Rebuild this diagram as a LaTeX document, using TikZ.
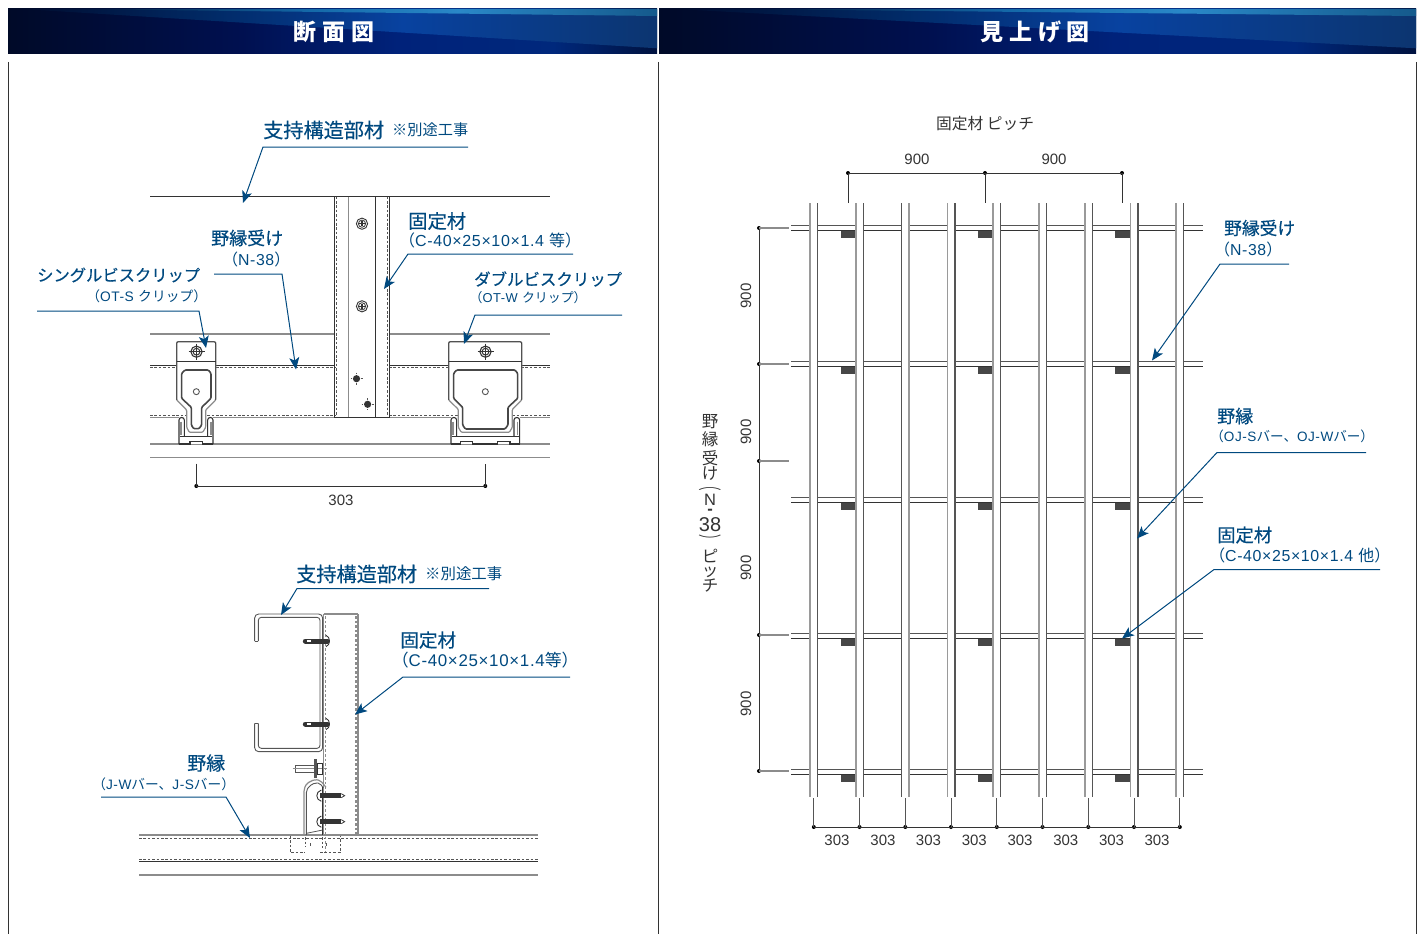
\documentclass[tikz,border=0pt]{standalone}
\usepackage{fontspec}
\usepackage{graphicx}
\usetikzlibrary{arrows.meta,calc}
\setmainfont{Liberation Sans}
\newfontfamily\lsp[LetterSpace=4]{Liberation Sans}
\newfontfamily\jp{Noto Sans CJK JP}
\newfontfamily\jpm[FakeBold=0.35]{Noto Sans CJK JP}
\newfontfamily\jphalf[RawFeature={+halt}]{Noto Sans CJK JP}
\newfontfamily\jphead[LetterSpace=26]{Noto Sans CJK JP}
\newcommand\J[1]{{\jp #1}}
\newcommand\Hf[1]{{\jphalf #1}}
\newcommand\fitw[2]{\resizebox{#1pt}{!}{#2}}
\newcommand\vcell[2]{\vbox to #1pt{\vss\hbox to 26pt{\hss #2\hss}\vss}\nointerlineskip}
\definecolor{lblue}{HTML}{00497F}
\definecolor{dk}{HTML}{333333}
\definecolor{md}{HTML}{555555}
\definecolor{gr}{HTML}{8C8C8C}
\definecolor{vg}{HTML}{9A9A9A}
\definecolor{hA}{HTML}{000A28}
\definecolor{hB}{HTML}{001050}
\definecolor{hC}{HTML}{00227A}
\definecolor{hD}{HTML}{00287C}
\definecolor{hE}{HTML}{00123F}
\definecolor{wA}{HTML}{000C2E}
\definecolor{wB}{HTML}{012A66}
\definecolor{wC}{HTML}{0842A0}
\definecolor{wD}{HTML}{0C3570}
\definecolor{bA}{HTML}{001030}
\definecolor{bB}{HTML}{1468A8}
\definecolor{bC}{HTML}{2A88C8}
\definecolor{bD}{HTML}{155A8C}
\pgfdeclarehorizontalshading{hdbase}{100bp}{color(0bp)=(hA); color(25bp)=(hA); color(43bp)=(hB); color(55bp)=(hC); color(67bp)=(hD); color(75bp)=(hE); color(100bp)=(hE)}
\pgfdeclarehorizontalshading{hdwedge}{100bp}{color(0bp)=(wA); color(25bp)=(wA); color(40bp)=(wB); color(55bp)=(wC); color(75bp)=(wD); color(100bp)=(wD)}
\pgfdeclarehorizontalshading{hdband}{100bp}{color(0bp)=(bA); color(25bp)=(bA); color(45bp)=(bB); color(58bp)=(bC); color(75bp)=(bD); color(100bp)=(bD)}
\tikzset{
  lab/.style={inner sep=0pt,anchor=west,text=lblue},
  hd/.style={font=\jpm\fontsize{18}{22}\selectfont},
  sb/.style={font=\lsp\fontsize{15}{18}\selectfont},
  dim/.style={inner sep=0pt,text=dk,font=\fontsize{15}{18}\selectfont},
  leader/.style={draw=lblue,line width=1pt,-{Stealth[length=12pt,width=10pt,inset=3pt]}},
  dl/.style={draw=dk,line width=.9pt},
  gl/.style={draw=gr,line width=1.2pt},
  dashl/.style={draw=md,line width=.9pt,dash pattern=on 2.6pt off 1.8pt},
  dimdot/.style={fill=black,circle,inner sep=0pt,minimum size=4pt},
  dimln/.style={draw=dk,line width=1pt},
  frame/.style={draw=dk,line width=.9pt},
  vparen/.style={inner sep=0pt,text=dk,rotate=-90,font=\fontsize{16.5}{17}\selectfont},
  htitle/.style={inner sep=0pt,text=white,font=\jphead\bfseries\fontsize{23}{26}\selectfont}
}
\newcommand\hdrbar[2]{%
\begin{scope}[shift={(#1,0)},xscale=#2]
\shade[shading=hdbase] (0,9) rectangle (100,54);
\shade[shading=hdwedge] (2,9)--(100,9)--(100,48.3)--cycle;
\shade[shading=hdband] (10,9)--(100,9)--(100,16)--cycle;
\end{scope}}
\newcommand\crossscrew[2]{%
\draw[dl,line width=1.1pt] (#1,#2) circle[radius=5.6];
\draw[dk,line width=1pt] (#1,#2) circle[radius=3.4];
\draw[dk,line width=1.4pt] (#1-3.4,#2)--(#1+3.4,#2) (#1,#2-3.4)--(#1,#2+3.4);
\draw[dk,line width=.7pt] (#1-8,#2)--(#1+8,#2) (#1,#2-8)--(#1,#2+8);}
\newcommand\plainscrew[2]{%
\draw[dl] (#1,#2) circle[radius=5.6];
\draw[dk,line width=.8pt] (#1,#2) circle[radius=3.6];
\draw[dk,line width=1.2pt] (#1-2.6,#2)--(#1+2.6,#2) (#1,#2-2.6)--(#1,#2+2.6);}
\newcommand\blackscrew[2]{%
\fill[dk] (#1,#2) circle[radius=3.6];
\draw[md,line width=.8pt] (#1-6,#2)--(#1-4.5,#2) (#1+4.5,#2)--(#1+6,#2) (#1,#2-6)--(#1,#2-4.5) (#1,#2+4.5)--(#1,#2+6);}
\begin{document}
\begin{tikzpicture}[x=1pt,y=-1pt]
\useasboundingbox (0,0) rectangle (1421,934);
% header bars
\hdrbar{8}{6.49}
\hdrbar{659}{7.57}
\node[htitle] (t1) at (334,31.5) {断面図};
\node[htitle] (t2) at (1035,31.5) {見上げ図};
% frame
\draw[frame] (8.5,62)--(8.5,934) (658,62)--(658,934) (1416,62)--(1416,934);

%%%%% upper-left section
\draw[dl] (150,196.5)--(550,196.5);
\foreach \a/\b in {150/335,389/550}{
  \draw[gl] (\a,334)--(\b,334);
  \draw[dl,line width=.7pt] (\a,365.4)--(\b,365.4);
  \draw[dashl] (\a,367.6)--(\b,367.6);
  \draw[dashl] (\a,415.8)--(\b,415.8);
  \draw[gl] (\a,417.7)--(\b,417.7);
}
\draw[gl] (150,444)--(550,444);
\draw[gl] (150,457.8)--(550,457.8);
% column
\draw[dl] (334.7,196.5)--(334.7,417.7);
\draw[gl] (348.5,196.5)--(348.5,417.7);
\draw[dl] (375.3,196.5)--(375.3,417.7);
\draw[dl] (389.2,196.5)--(389.2,417.7);
\draw[dashl] (336.4,196.5)--(336.4,417.7);
\draw[dashl] (387.4,196.5)--(387.4,417.7);
\draw[dl] (335,417.7)--(389,417.7);
\plainscrew{362}{223.7}
\plainscrew{362}{306.3}
\blackscrew{356.5}{378.7}
\blackscrew{367.6}{404.3}
% clips
\begin{scope}[shift={(140,320)},scale=1/3]
 % single clip holder
 \fill[white] (116,290) rectangle (219,371);
 \draw[dl,line width=1.1pt] (117,372)--(117,300)..controls (117,290) and (133,290) .. (133,300)--(133,350);
 \draw[dl,line width=1.1pt] (219,372)--(219,300)..controls (219,290) and (203,290) .. (203,300)--(203,350);
 \draw[gl] (123,305)--(123,345) (213,305)--(213,345);
 \draw[dl] (120,350)--(217,350);
 \draw[dl,line width=1.1pt] (117,372)--(150,372)--(150,365)--(187,365)--(187,372)--(219,372);
 % single clip
 \draw[gl,fill=white,rounded corners=1pt] (110,240)--(110,65)--(227,65)--(227,240)--(197,270)--(197,322)--(188,337)--(148,337)--(140,322)--(140,270)--cycle;
 \draw[dl,line width=.7pt,rounded corners=2pt] (110,240)--(110,65)--(227,65)--(227,240);
 \draw[dl,line width=.8pt] (110,125)--(227,125);
 \draw[draw=dk!90,line width=1.6pt,rounded corners=1pt] (125,235)--(125,160)--(135,150)--(205,150)--(213,160)--(213,235)--(185,262)--(185,315)--(177,326)--(161,326)--(154,315)--(154,262)--cycle;
 \draw[md,line width=.9pt] (169,215) circle[radius=9];
 % double clip holder
 \fill[white] (932,290) rectangle (1140,371);
 \draw[dl,line width=1.1pt] (933,372)--(933,300)..controls (933,290) and (950,290) .. (950,300)--(950,350);
 \draw[dl,line width=1.1pt] (1139,372)--(1139,300)..controls (1139,290) and (1122,290) .. (1122,300)--(1122,350);
 \draw[gl] (939,305)--(939,345) (1133,305)--(1133,345);
 \draw[dl] (935,350)--(1137,350);
 \draw[dl,line width=1.1pt] (933,372)--(962,372)--(962,365)--(998,365)--(998,372)--(1072,372)--(1072,365)--(1110,365)--(1110,372)--(1139,372);
 % double clip
 \draw[gl,fill=white,rounded corners=1pt] (926,240)--(926,65)--(1145,65)--(1145,240)--(1117,268)--(1117,322)--(1108,337)--(964,337)--(955,322)--(955,268)--cycle;
 \draw[dl,line width=.7pt,rounded corners=2pt] (926,240)--(926,65)--(1145,65)--(1145,240);
 \draw[dl,line width=.8pt] (926,125)--(1145,125);
 \draw[draw=dk!90,line width=1.6pt,rounded corners=1pt] (941,235)--(941,160)--(950,150)--(1125,150)--(1133,160)--(1133,235)--(1104,262)--(1104,315)--(1095,327)--(976,327)--(968,315)--(968,262)--cycle;
 \draw[md,line width=.9pt] (1036,215) circle[radius=9];
\end{scope}
\crossscrew{196.5}{351.7}
\crossscrew{485.5}{351.7}
% dimension 303
\node[dimdot] (d1a) at (196.3,486) {};
\node[dimdot] (d1b) at (485.3,486) {};
\coordinate (d1c) at (196.3,463.5);
\coordinate (d1d) at (485.3,463.5);
\draw[dimln] (d1c)--(d1a.center)--(d1b.center)--(d1d);
\node[dim] (d303) at (341,500) {303};

%%%%% lower-left section
\draw[gl] (139,835)--(538,835);
\draw[dashl] (139,838.5)--(538,838.5);
\draw[dashl] (139,859.3)--(538,859.3);
\draw[dl] (139,861.2)--(538,861.2);
\draw[gl] (139,875)--(538,875);
% column
\draw[gl] (323.5,614)--(323.5,835);
\draw[gl] (323.5,614)--(358,614);
\draw[draw=gr,line width=1.6pt] (357.8,614)--(357.8,835);
\draw[draw=gr,line width=1.5pt,dash pattern=on 2.6pt off 2pt] (325.7,616)--(325.7,855);
\draw[draw=gr,line width=1.5pt,dash pattern=on 2.6pt off 2pt] (356,616)--(356,835);
\begin{scope}[shift={(240,600)},scale=1/3]
 \draw[md,line width=.9pt,rounded corners=4pt] (44,123)--(44,42)--(248,42)--(248,455)--(44,455)--(44,370);
 \draw[md,line width=.9pt,rounded corners=3pt] (55,123)--(55,52)--(240,52)--(240,445)--(55,445)--(55,370);
 \draw[md,line width=.9pt] (44,123)--(55,123) (44,370)--(55,370);
 \foreach \y in {123,372}{
  \draw[dk,line width=5pt,line cap=round] (196,\y)--(262,\y);
  \draw[white,line width=1.6pt] (200,\y)--(214,\y);
  \draw[dk,line width=.9pt] (258,\y-17)..controls (272,\y-12) and (272,\y+12) .. (258,\y+17);
 }
\end{scope}
\begin{scope}[shift={(130,750)},scale=1/3]
 % bolt
 \draw[md,line width=.8pt] (495,45) rectangle (552,67);
 \draw[draw=gr,line width=.6pt] (488,56)--(590,56);
 \fill[md] (552,28) rectangle (561,85);
 \draw[dk,line width=.8pt] (562,40) rectangle (578,72);
 % clip
 \draw[gl,rounded corners=2pt] (522,255)--(522,118)--(530,100)--(555,88)--(572,92)--(588,112);
 \draw[md,line width=.9pt,rounded corners=2pt] (529,255)--(529,122)--(538,108)--(556,98)--(570,100)--(580,114);
 \draw[dl,line width=1.1pt] (578,110)--(578,255);
 \draw[md,line width=.8pt] (529,250)--(578,240);
 \foreach \y in {137,215}{
  \draw[dk,line width=5pt] (570,\y)--(634,\y);
  \draw[dk,line width=.8pt] (634,\y-6)--(644,\y)--(634,\y+6);
  \draw[dk,line width=.9pt] (574,\y-17)..controls (556,\y-12) and (556,\y+12) .. (574,\y+17);
 }
 % hidden part
 \draw[dashl] (481,258)--(481,308)--(525,308);
 \draw[dashl] (570,308)--(630,308)--(630,258);
 \draw[dashl] (525,262)--(525,290) (540,280)--(540,292) (578,262)--(578,295) (590,280)--(590,292);
\end{scope}

%%%%% right plan
\foreach \y in {228,364,500,636,772}{
  \draw[md,line width=1pt] (791,\y-2.7)--(1203,\y-2.7);
  \draw[dl,line width=1pt] (791,\y+2.7)--(1203,\y+2.7);
}
\foreach \y in {228,364,500,636,772}{
  \foreach \x in {855.3,993,1130}{
    \fill[dk!90] (\x-14.6,\y+3) rectangle (\x,\y+9.5);
  }
}
\foreach \x in {810.3,856,901.7,947.5,993.2,1039,1084.7,1130.5,1176.2}{
  \fill[white] (\x,203) rectangle (\x+7.5,797);
}
\foreach \x in {810.3,856,947.5,993.2,1039,1084.7,1130.5,1176.2}{
  \draw[draw=vg,line width=1.7pt] (\x,203)--(\x,797);
  \draw[md,line width=1.1pt] (\x+7.5,203)--(\x+7.5,797);
}
\draw[md,line width=1.1pt] (901.7,203)--(901.7,797);
\draw[draw=vg,line width=1.7pt] (909.2,203)--(909.2,797);

% top dimension
\node[dimdot] (ta) at (848,173) {};
\node[dimdot] (tb) at (985,173) {};
\node[dimdot] (tc) at (1122,173) {};
\coordinate (ta2) at (848,203);
\coordinate (tb2) at (985,203);
\coordinate (tc2) at (1122,203);
\draw[dimln] (ta2)--(ta.center)--(tc.center)--(tc2) (tb.center)--(tb2);
\node[dim] (t900a) at (917,159.5) {900};
\node[dim] (t900b) at (1054,159.5) {900};
\node[dim] (tpitch) at (985,124) {\fitw{98}{\J{固定材 ピッチ}}};
% left dimension
\node[dimdot] (la) at (759,228) {};
\node[dimdot] (lb) at (759,364) {};
\node[dimdot] (lc) at (759,461) {};
\node[dimdot] (ld) at (759,635) {};
\node[dimdot] (le) at (759,771) {};
\coordinate (la2) at (789,228);
\coordinate (lb2) at (789,364);
\coordinate (lc2) at (789,461);
\coordinate (ld2) at (789,635);
\coordinate (le2) at (789,771);
\draw[dimln] (la.center)--(le.center);
\draw[draw=gr,line width=1.2pt] (la.center)--(la2) (lb.center)--(lb2) (lc.center)--(lc2) (ld.center)--(ld2) (le.center)--(le2);
\node[dim,rotate=90] (l900a) at (746,296) {900};
\node[dim,rotate=90] (l900b) at (746,432) {900};
\node[dim,rotate=90] (l900c) at (746,568) {900};
\node[dim,rotate=90] (l900d) at (746,704) {900};
% vertical caption
\node[inner sep=0pt,text=dk,anchor=north,font=\fontsize{16.5}{17}\selectfont] (vcap) at (710,413) {\vbox{%
\vcell{17.4}{\J{野}}\vcell{18.1}{\J{縁}}\vcell{18}{\J{受}}\vcell{14.5}{\J{け}}%
\vcell{12}{}\vcell{12.5}{N}\vcell{12.5}{\bfseries -}\vcell{12.5}{{\fontsize{20}{20}\selectfont 38}}%
\vcell{16.5}{}\vcell{18}{\J{ピ}}\vcell{14}{\J{ッ}}\vcell{13}{\J{チ}}}};
\node[vparen] (vpa) at (710,488) {\scalebox{.7}[1.4]{\Hf{（}}};
\node[vparen] (vpb) at (710,537) {\scalebox{.7}[1.4]{\Hf{）}}};
% bottom dimension
\foreach \i/\x in {0/813.8,1/859.5,2/905.3,3/951,4/996.8,5/1042.5,6/1088.3,7/1134,8/1179.8}{
  \node[dimdot] (b\i) at (\x,827) {};
  \coordinate (bt\i) at (\x,798);
  \draw[draw=md,line width=1pt] (bt\i)--(b\i.center);
}
\draw[dimln] (b0.center)--(b8.center);
\foreach \i/\x in {0/837,1/883,2/928.5,3/974.3,4/1020,5/1065.8,6/1111.5,7/1157}{
  \node[dim] (bl\i) at (\x,840) {303};
}

%%%%% labels
\node[lab,hd] (a1) at (263,130) {\fitw{121}{支持構造部材}};
\node[lab,sb] (a1b) at (392,130) {\fitw{76}{\J{※別途工事}}};
\coordinate (a1u) at (468,147); \coordinate (a1v) at (263,147); \coordinate (a1t) at (243,203);
\draw[leader] (a1u)--(a1v)--(a1t);

\node[lab,hd] (a2) at (408,221) {\fitw{58}{固定材}};
\node[lab,sb] (a2b) at (407,240) {\fitw{166}{\Hf{（}C-40×25×10×1.4 \J{等}\Hf{）}}};
\coordinate (a2u) at (573,254); \coordinate (a2v) at (408,254); \coordinate (a2t) at (384,289);
\draw[leader] (a2u)--(a2v)--(a2t);

\node[lab,hd] (a3) at (211,238) {\fitw{72}{野縁受け}};
\node[lab,sb] (a3b) at (230,259) {\fitw{52}{\Hf{（}N-38\Hf{）}}};
\coordinate (a3u) at (214,274); \coordinate (a3v) at (282,274); \coordinate (a3t) at (296,369.5);
\draw[leader] (a3u)--(a3v)--(a3t);

\node[lab,hd] (a4) at (37,275) {\fitw{163}{シングルビスクリップ}};
\node[lab,sb] (a4b) at (93,296) {\fitw{107}{\Hf{（}OT-S \J{クリップ}\Hf{）}}};
\coordinate (a4u) at (37,311); \coordinate (a4v) at (199,311); \coordinate (a4t) at (206,348);
\draw[leader] (a4u)--(a4v)--(a4t);

\node[lab,hd] (a5) at (474,279) {\fitw{148}{ダブルビスクリップ}};
\node[lab,sb] (a5b) at (476,298) {\fitw{104}{\Hf{（}OT-W \J{クリップ}\Hf{）}}};
\coordinate (a5u) at (622,315); \coordinate (a5v) at (475,315); \coordinate (a5t) at (464,344);
\draw[leader] (a5u)--(a5v)--(a5t);

\node[lab,hd] (a6) at (296,574) {\fitw{121}{支持構造部材}};
\node[lab,sb] (a6b) at (425,574) {\fitw{77}{\J{※別途工事}}};
\coordinate (a6u) at (489,588.5); \coordinate (a6v) at (297,588.5); \coordinate (a6t) at (281,615);
\draw[leader] (a6u)--(a6v)--(a6t);

\node[lab,hd] (a7) at (400,640) {\fitw{56}{固定材}};
\node[lab,sb] (a7b) at (400,660.5) {\fitw{170}{\Hf{（}C-40×25×10×1.4\J{等}\Hf{）}}};
\coordinate (a7u) at (570,677); \coordinate (a7v) at (403,677); \coordinate (a7t) at (355,714.5);
\draw[leader] (a7u)--(a7v)--(a7t);

\node[lab,hd] (a8) at (187,763) {\fitw{38}{野縁}};
\node[lab,sb] (a8b) at (99,784) {\fitw{129}{\Hf{（}J-W\J{バー、}J-S\J{バー}\Hf{）}}};
\coordinate (a8u) at (101,797); \coordinate (a8v) at (226,797); \coordinate (a8t) at (250,838);
\draw[leader] (a8u)--(a8v)--(a8t);

\node[lab,hd] (r1) at (1224,228) {\fitw{71}{野縁受け}};
\node[lab,sb] (r1b) at (1222,249) {\fitw{52}{\Hf{（}N-38\Hf{）}}};
\coordinate (r1u) at (1289,264); \coordinate (r1v) at (1220,264); \coordinate (r1t) at (1152,360.5);
\draw[leader] (r1u)--(r1v)--(r1t);

\node[lab,hd] (r2) at (1217,416) {\fitw{36}{野縁}};
\node[lab,sb] (r2b) at (1217,436) {\fitw{150}{\Hf{（}OJ-S\J{バー、}OJ-W\J{バー}\Hf{）}}};
\coordinate (r2u) at (1366,452.5); \coordinate (r2v) at (1217,452.5); \coordinate (r2t) at (1137,538.5);
\draw[leader] (r2u)--(r2v)--(r2t);

\node[lab,hd] (r3) at (1217,535) {\fitw{55}{固定材}};
\node[lab,sb] (r3b) at (1217,555) {\fitw{165}{\Hf{（}C-40×25×10×1.4 \J{他}\Hf{）}}};
\coordinate (r3u) at (1380,569.5); \coordinate (r3v) at (1214,569.5); \coordinate (r3t) at (1122,638.5);
\draw[leader] (r3u)--(r3v)--(r3t);
\end{tikzpicture}
\end{document}
